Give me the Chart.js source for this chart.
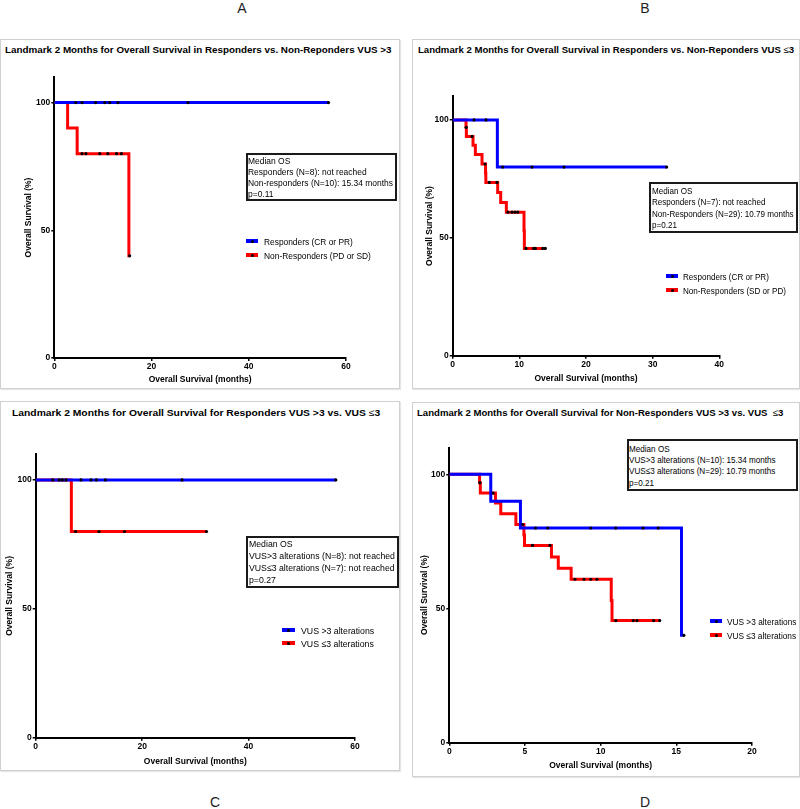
<!DOCTYPE html>
<html lang="en">
<head>
<meta charset="UTF-8">
<title>Landmark 2 Months Overall Survival</title>
<script src="https://cdn.jsdelivr.net/npm/chart.js"></script>
<style>
  body { margin: 0; width: 800px; height: 809px; position: relative; overflow: hidden; background: #fff;
         font-family: Arial, "Liberation Sans", sans-serif; color: #000; }
  .frame { position: absolute; border: 1px solid #d0d0d0; box-sizing: border-box; box-shadow: 1px 1px 1px #e6e6e6; }
  canvas { position: absolute; }
  .ptitle { position: absolute; font-weight: bold; font-size: 9.5px; line-height: 12px; white-space: nowrap; transform-origin: left center; }
  .ptitle span { font-weight: normal; }
  .letter { position: absolute; font-size: 14px; line-height: 16px; color: #222; transform: translate(-50%, -50%); }
  .osbox { position: absolute; border: 2px solid #1a1a1a; box-sizing: border-box; background: #fff; }
  .osbox .txt { position: absolute; font-size: 9.5px; white-space: nowrap; transform-origin: left top; }
  .lg-line { position: absolute; height: 4px; }
  .lg-dot { position: absolute; width: 3px; height: 3px; background: #000; border-radius: 50%; }
  .lg-text { position: absolute; font-size: 9.5px; line-height: 11px; white-space: nowrap; transform-origin: left center; }
</style>
</head>
<body>
<script>
// values (months / % surviving)
const xTicksLong = [0, 20, 40, 60];
const xTicksB = [0, 10, 20, 30, 40];
const xTicksD = [0, 5, 10, 15, 20];
const yTicks = [0, 50, 100];

// Responders, VUS >3 (N=8)
const respHighTime = [0, 56.4];
const respHighSurv = [100, 100];
const respHighCensTime = [4.4, 5.7, 8.5, 10.4, 11.4, 13.1, 27.5, 56.4];
const respHighCensSurv = [100, 100, 100, 100, 100, 100, 100, 100];

// Non-responders, VUS >3 (N=10)
const nonHighTime = [0, 2.74, 4.7, 15.34, 15.5];
const nonHighSurv = [100, 90, 80, 40, 40];
const nonHighCensTime = [5.7, 6.5, 9.35, 11.0, 12.8, 13.8, 15.5];
const nonHighCensSurv = [80, 80, 80, 80, 80, 80, 40];

// Responders, VUS <=3 (N=7)
const respLowTime = [0, 6.7, 32.1];
const respLowSurv = [100, 80, 80];
const respLowCensTime = [3.2, 5.0, 7.5, 11.9, 16.7, 32.1];
const respLowCensSurv = [100, 100, 80, 80, 80, 80];

// Non-responders, VUS <=3 (N=29)
const nonLowTime = [0, 2.0, 2.05, 3.05, 3.4, 4.4, 4.93, 4.97, 6.75, 7.2, 8.05, 10.7, 10.75, 13.95];
const nonLowSurv = [100, 96.9, 93.0, 89.3, 85.3, 81.3, 77.4, 73.5, 69.2, 65.0, 60.9, 53.0, 45.5, 45.5];
const nonLowCensTime = [2.02, 2.9, 4.85, 5.5, 6.65, 8.3, 8.9, 9.35, 9.75, 11.0, 12.15, 12.4, 13.5, 13.9];
const nonLowCensSurv = [96.9, 93.0, 81.3, 73.5, 73.5, 60.9, 60.9, 60.9, 60.9, 45.5, 45.5, 45.5, 45.5, 45.5];

const blue = '#0000ff';
const red = '#ff0000';
const axisFont = 8.5;
Chart.defaults.font.family = 'Arial, "Liberation Sans", sans-serif';

const panels = [
  {
    letter: ['A', 242, 8],
    frame: [0, 39, 400, 350], plot: [54.3, 346, 77, 358], xTitleY: 380, yTitleX: 29,
    xMax: 60, xTicks: xTicksLong,
    title: 'Landmark 2 Months for Overall Survival in Responders vs. Non-Reponders VUS &gt;3', titlePos: [5, 50, 387],
    series: [
      { label: 'Responders (CR or PR)', color: blue, time: respHighTime, surv: respHighSurv, censTime: respHighCensTime, censSurv: respHighCensSurv },
      { label: 'Non-Responders (PD or SD)', color: red, time: nonHighTime, surv: nonHighSurv, censTime: nonHighCensTime, censSurv: nonHighCensSurv }
    ],
    legend: { x: 246, w: 12, rows: [241, 255], tx: 264, tw: [89, 107] },
    box: { rect: [246, 153, 151, 48], tx: 248.3, first: 160.7, step: 11, tw: 145,
           lines: ['Median OS', 'Responders (N=8): not reached', 'Non-responders (N=10): 15.34 months', 'p=0.11'] }
  },
  {
    letter: ['B', 645, 8],
    frame: [412, 39, 388, 350], plot: [452.7, 719.3, 96.4, 355.7], xTitleY: 379, yTitleX: 429.3,
    xMax: 40, xTicks: xTicksB,
    title: 'Landmark 2 Months for Overall Survival in Responders vs. Non-Reponders VUS <span>≤</span>3', titlePos: [418, 50, 376],
    series: [
      { label: 'Responders (CR or PR)', color: blue, time: respLowTime, surv: respLowSurv, censTime: respLowCensTime, censSurv: respLowCensSurv },
      { label: 'Non-Responders (SD or PD)', color: red, time: nonLowTime, surv: nonLowSurv, censTime: nonLowCensTime, censSurv: nonLowCensSurv }
    ],
    legend: { x: 666, w: 12.3, rows: [276, 290], tx: 683.3, tw: [86, 103] },
    box: { rect: [649, 182, 149, 51], tx: 651.5, first: 190.7, step: 11.2, tw: 142,
           lines: ['Median OS', 'Responders (N=7): not reached', 'Non-Responders (N=29): 10.79 months', 'p=0.21'] }
  },
  {
    letter: ['C', 215, 802],
    frame: [0, 401, 400, 370], plot: [35.7, 355, 454.2, 737.7], xTitleY: 761.7, yTitleX: 10,
    xMax: 60, xTicks: xTicksLong,
    title: 'Landmark 2 Months for Overall Survival for Responders VUS &gt;3 vs. VUS <span>≤</span>3', titlePos: [12, 413, 368],
    series: [
      { label: 'VUS >3 alterations', color: blue, time: respHighTime, surv: respHighSurv, censTime: respHighCensTime, censSurv: respHighCensSurv },
      { label: 'VUS ≤3 alterations', color: red, time: respLowTime, surv: respLowSurv, censTime: respLowCensTime, censSurv: respLowCensSurv }
    ],
    legend: { x: 281.7, w: 13.3, rows: [630, 643.3], tx: 300.7, tw: [72.7, 72.7] },
    box: { rect: [246, 536, 153, 52], tx: 249.3, first: 544.3, step: 11.9, tw: 146,
           lines: ['Median OS', 'VUS>3 alterations (N=8): not reached', 'VUS≤3 alterations (N=7): not reached', 'p=0.27'] }
  },
  {
    letter: ['D', 645, 802],
    frame: [412, 402, 388, 375], plot: [449.3, 752, 447.5, 742.7], xTitleY: 766, yTitleX: 425,
    xMax: 20, xTicks: xTicksD,
    title: 'Landmark 2 Months for Overall Survival for Non-Responders VUS &gt;3 vs. VUS &nbsp;<span>≤</span>3', titlePos: [417, 413, 366],
    series: [
      { label: 'VUS >3 alterations', color: blue, time: nonHighTime, surv: nonHighSurv, censTime: nonHighCensTime, censSurv: nonHighCensSurv },
      { label: 'VUS ≤3 alterations', color: red, time: nonLowTime, surv: nonLowSurv, censTime: nonLowCensTime, censSurv: nonLowCensSurv }
    ],
    legend: { x: 710, w: 12.3, rows: [621, 635], tx: 727.3, tw: [69, 69] },
    box: { rect: [627, 439, 171, 52], tx: 629.3, first: 448.3, step: 11.4, tw: 147,
           lines: ['Median OS', 'VUS>3 alterations (N=10): 15.34 months', 'VUS≤3 alterations (N=29): 10.79 months', 'p=0.21'] }
  }
];

function points(times, values) {
  return times.map((t, i) => ({ x: t, y: values[i] }));
}

function el(cls, parent, html) {
  const d = document.createElement('div');
  d.className = cls;
  if (html !== undefined) d.innerHTML = html;
  (parent || document.body).appendChild(d);
  return d;
}

function place(d, left, top, width, height) {
  d.style.left = left + 'px';
  d.style.top = top + 'px';
  if (width !== undefined) d.style.width = width + 'px';
  if (height !== undefined) d.style.height = height + 'px';
}

function fitWidth(d, target) {
  const w = d.scrollWidth;
  d.style.transform = 'scaleX(' + (target / w) + ')';
}

function axisOptions(min, max, tickValues, title, fitFn) {
  return {
    type: 'linear', min: min, max: max,
    afterBuildTicks: s => { s.ticks = tickValues.map(v => ({ value: v })); },
    afterFit: fitFn,
    ticks: { color: '#000', font: { size: axisFont, weight: 'bold' }, padding: 1, maxRotation: 0, autoSkip: false },
    grid: { display: true, drawOnChartArea: false, drawTicks: true, tickLength: 3, color: '#000', lineWidth: 1.5 },
    border: { display: true, color: '#000', width: 2 },
    title: { display: true, text: title, color: '#000', font: { size: axisFont, weight: 'bold' }, padding: 0 }
  };
}

function drawPanel(p) {
  const [fl, ft, fw, fh] = p.frame;
  const [x0, x1, yTop, yBot] = p.plot;
  place(el('frame'), fl, ft, fw, fh);

  const lg = el('letter', null, p.letter[0]);
  place(lg, p.letter[1], p.letter[2]);

  const t = el('ptitle', null, p.title);
  place(t, p.titlePos[0], p.titlePos[1] - 6);
  fitWidth(t, p.titlePos[2]);

  // layout so the plot area lands where it is in the figure
  const half = axisFont * 1.2 / 2;
  const padLeft = p.yTitleX - fl - half;
  const yW = x0 - fl - padLeft;
  const padTop = yTop - ft;
  const padRight = fl + fw - x1;
  const padBottom = ft + fh - p.xTitleY - half;
  const xH = ft + fh - padBottom - yBot;

  const canvas = document.createElement('canvas');
  canvas.width = fw;
  canvas.height = fh;
  place(canvas, fl, ft);
  document.body.appendChild(canvas);

  const lines = p.series.map((s, i) => ({
    label: s.label, data: points(s.time, s.surv), showLine: true, stepped: 'before',
    borderColor: s.color, borderWidth: 3, pointRadius: 0, order: 10 + i
  }));
  const marks = p.series.map(s => ({
    label: s.label + ' censored', data: points(s.censTime, s.censSurv), showLine: false,
    pointRadius: 1.6, pointBackgroundColor: '#000', pointBorderWidth: 0, order: 0
  }));

  new Chart(canvas, {
    type: 'scatter',
    data: { datasets: lines.concat(marks) },
    options: {
      responsive: false, animation: false, devicePixelRatio: 1,
      layout: { padding: { left: padLeft, top: padTop, right: padRight, bottom: padBottom } },
      plugins: { legend: { display: false }, tooltip: { enabled: false }, title: { display: false } },
      scales: {
        x: axisOptions(0, p.xMax, p.xTicks, 'Overall Survival (months)', s => { s.height = xH; }),
        y: axisOptions(0, 110, yTicks, 'Overall Survival (%)', s => { s.width = yW; })
      }
    }
  });

  // legend drawn inside the plot
  p.series.forEach((s, i) => {
    const cy = p.legend.rows[i];
    const ln = el('lg-line');
    ln.style.background = s.color;
    place(ln, p.legend.x, cy - 2, p.legend.w);
    place(el('lg-dot'), p.legend.x + p.legend.w / 2 - 1.5, cy - 1.5);
    const tx = el('lg-text', null, s.label.replace('>', '&gt;'));
    place(tx, p.legend.tx, cy - 5.5);
    fitWidth(tx, p.legend.tw[i]);
  });

  // median OS box
  const b = p.box;
  const box = el('osbox');
  place(box, b.rect[0], b.rect[1], b.rect[2], b.rect[3]);
  const txt = el('txt', box);
  txt.style.lineHeight = b.step + 'px';
  txt.innerHTML = b.lines.map(l => l.replace('>', '&gt;')).join('<br>');
  place(txt, b.tx - b.rect[0] - 2, b.first - b.rect[1] - 2 - b.step / 2);
  fitWidth(txt, b.tw);
}

panels.forEach(drawPanel);
</script>
</body>
</html>
